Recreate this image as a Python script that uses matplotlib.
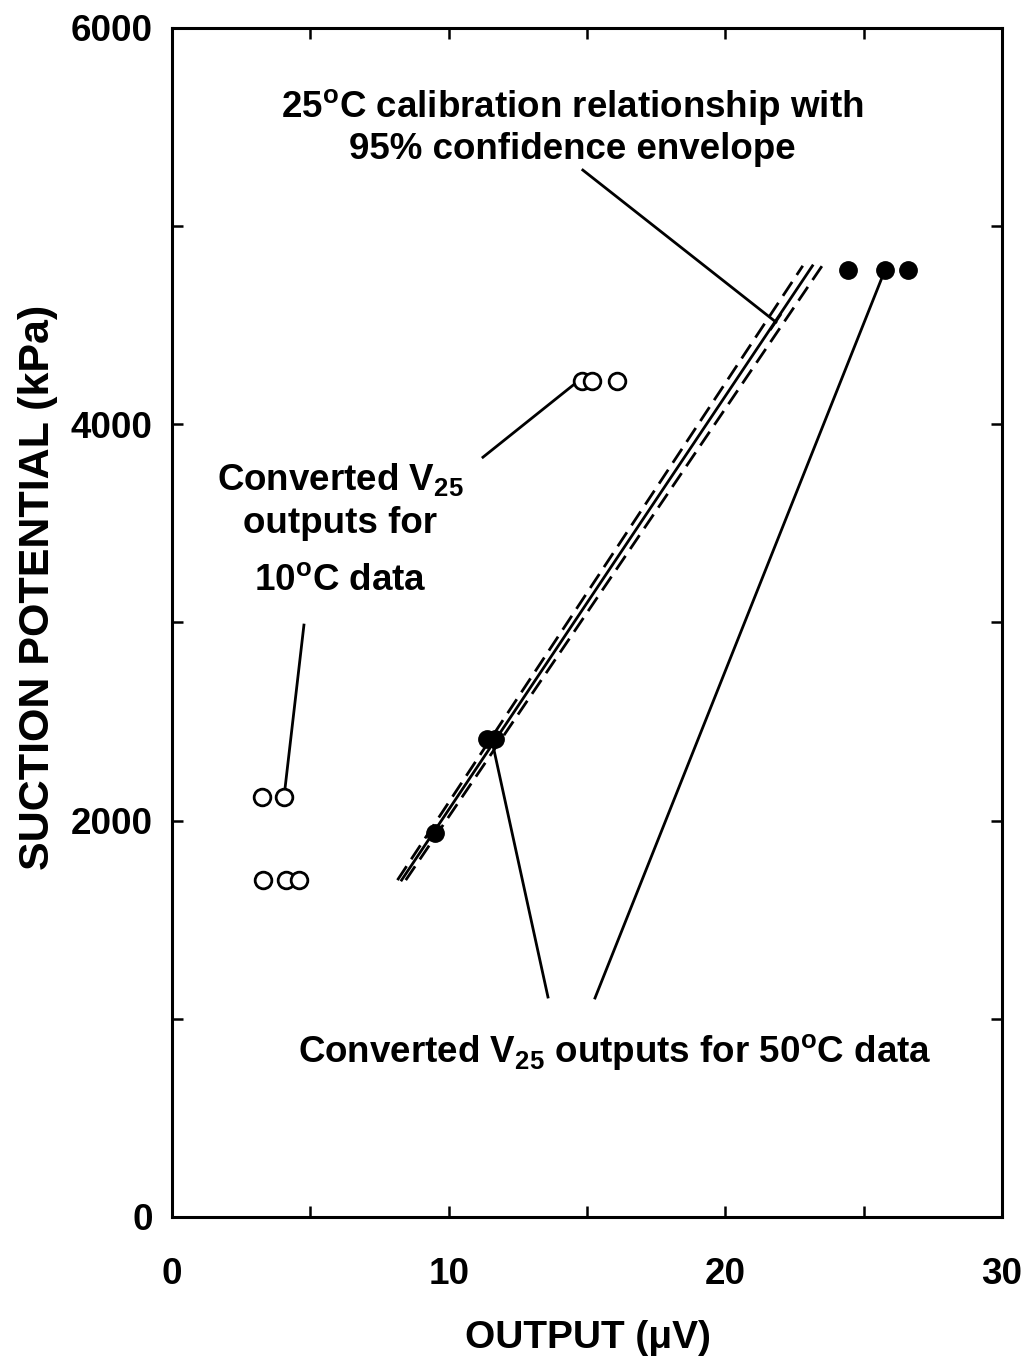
import matplotlib
matplotlib.use("Agg")
import matplotlib.pyplot as plt
import numpy as np

plt.rcParams['font.family'] = ['Liberation Sans', 'DejaVu Sans']
plt.rcParams['font.weight'] = 'bold'
plt.rcParams['mathtext.fontset'] = 'custom'
plt.rcParams['mathtext.rm'] = 'Liberation Sans:bold'
plt.rcParams['mathtext.bf'] = 'Liberation Sans:bold'

# converted V25 outputs for 10 C data (open circles)
out10 = [3.25, 4.05, 3.3, 4.12, 4.6, 14.82, 15.18, 16.08]
suc10 = [2120, 2120, 1700, 1700, 1700, 4220, 4220, 4220]

# converted V25 outputs for 50 C data (filled circles)
out50 = [9.5, 11.38, 11.67, 24.43, 25.77, 26.6]
suc50 = [1940, 2410, 2410, 4780, 4780, 4780]

# 25 C calibration line and 95% envelope (end points)
cal_suc = [1700, 4800]
cal_mid = [8.3, 23.15]
cal_lo = [8.15, 22.8]
cal_hi = [8.45, 23.5]

fig = plt.figure(figsize=(10.26, 13.59), dpi=100)
ax = fig.add_axes([0.1676, 0.1045, 0.8090, 0.8749])

ax.plot(cal_mid, cal_suc, color='black', lw=2.0)
ax.plot(cal_lo, cal_suc, color='black', lw=2.0, dashes=(6, 3))
ax.plot(cal_hi, cal_suc, color='black', lw=2.0, dashes=(6, 3))

ax.plot(out10, suc10, 'o', ms=12, mfc='white', mec='black', mew=2.0, ls='none', zorder=3)
ax.plot(out50, suc50, 'o', ms=12.5, mfc='black', mec='black', ls='none', zorder=3)

# leader lines
ax.plot([14.85, 21.83], [5283, 4516], color='black', lw=2.0)
ax.plot([21.65, 22.0], [4480, 4552], color='black', lw=1.6)
ax.plot([11.24, 14.86], [3834, 4238], color='black', lw=2.0)
ax.plot([4.77, 4.05], [2987, 2119], color='black', lw=2.0)
ax.plot([13.59, 11.56], [1110, 2407], color='black', lw=2.0)
ax.plot([15.29, 25.77], [1105, 4778], color='black', lw=2.0)

ax.set_xlim(0, 30)
ax.set_ylim(0, 6000)
ax.set_xticks([0, 10, 20, 30])
ax.set_xticks([5, 15, 25], minor=True)
ax.set_yticks([0, 2000, 4000, 6000])
ax.set_yticks([1000, 3000, 5000], minor=True)
ax.tick_params(which='both', direction='in', top=True, right=True, width=1.8)
ax.tick_params(which='major', length=8)
ax.tick_params(which='minor', length=8)
ax.tick_params(axis='x', which='major', pad=29, labelsize=26.5)
ax.tick_params(axis='y', which='major', pad=14, labelsize=26.5)
for lab in ax.get_xticklabels() + ax.get_yticklabels():
    lab.set_fontweight('bold')
for s in ax.spines.values():
    s.set_linewidth(2.2)

fs = 26.5
ax.text(14.46, 5600, r"25$^\mathrm{o}$C calibration relationship with",
        ha='center', va='center', fontsize=fs, fontweight='bold')
ax.text(14.46, 5385, "95% confidence envelope",
        ha='center', va='center', fontsize=fs, fontweight='bold')

ax.text(6.07, 3718, r"Converted V$_\mathrm{25}$",
        ha='center', va='center', fontsize=fs, fontweight='bold')
ax.text(6.07, 3500, "outputs for",
        ha='center', va='center', fontsize=fs, fontweight='bold')
ax.text(6.07, 3205, r"10$^\mathrm{o}$C data",
        ha='center', va='center', fontsize=fs, fontweight='bold')

ax.text(16.0, 827, r"Converted V$_\mathrm{25}$ outputs for 50$^\mathrm{o}$C data",
        ha='center', va='center', fontsize=fs, fontweight='bold')

fig.text(588 / 1026, 1 - 1338 / 1359, "OUTPUT (μV)", ha='center', va='center',
         fontsize=28, fontweight='bold')
fig.text(38 / 1026, 1 - 587 / 1359, "SUCTION POTENTIAL (kPa)", ha='center', va='center',
         rotation=90, fontsize=31, fontweight='bold')

fig.savefig('out.png', dpi=100)
